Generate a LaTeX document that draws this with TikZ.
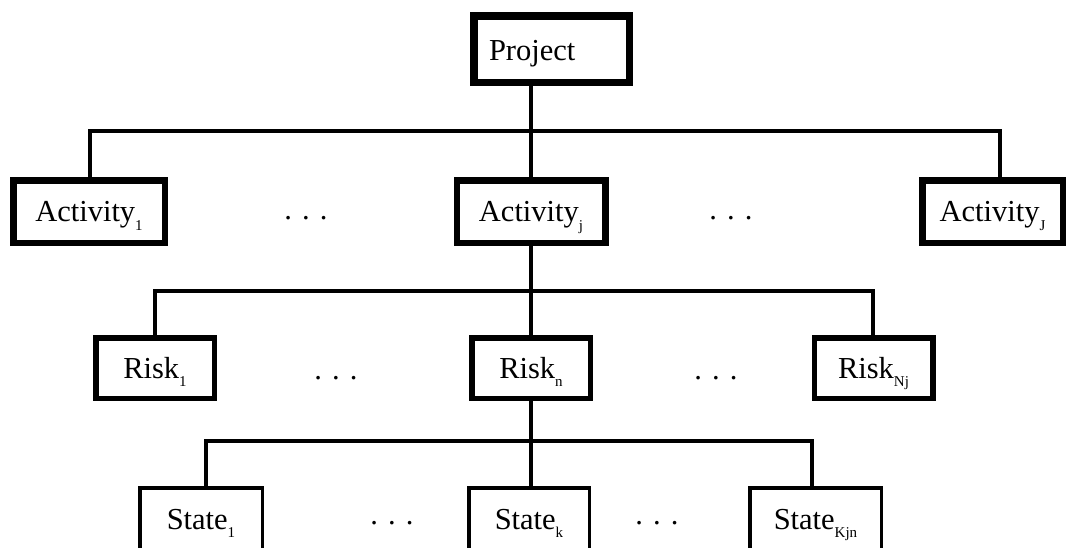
\documentclass[tikz,border=0pt]{standalone}
\usepackage{fontspec}
\setmainfont{Liberation Serif}
\newcommand\lowsub[1]{\raisebox{-0.28em}{\fontsize{15}{15}\selectfont #1}}
\tikzset{
  box/.style={draw=black, fill=white, inner sep=0pt, align=center,
    text height=20pt, text depth=0pt,
    font=\fontsize{30.5}{36}\selectfont},
  projbox/.style={box, line width=7.5pt, text width=125pt, align=left,
    inner xsep=15.25pt, minimum height=66.5pt, text height=22pt},
  actbox/.style={box, line width=6.5pt, minimum height=62.5pt},
  riskbox/.style={box, line width=5.5pt, minimum width=118.5pt, minimum height=60.5pt},
  statebox/.style={box, line width=3.5pt, minimum height=62.5pt},
  link/.style={line width=3.6pt, line cap=rect},
  dots/.style={anchor=base, inner sep=0pt, font=\fontsize{30.5}{36}\selectfont}
}
\begin{document}
\begin{tikzpicture}[x=1pt, y=-1pt]
\useasboundingbox (0,0) rectangle (1072,547);
\clip (0,0) rectangle (1072,547);

% bus coordinates
\coordinate (b1L) at (90,131);
\coordinate (b1R) at (1000,131);
\coordinate (b2L) at (155,291);
\coordinate (b2R) at (873,291);
\coordinate (b3L) at (206,441);
\coordinate (b3R) at (812,441);
\coordinate (pdrop) at (531,86);

% horizontal buses (drawn first, boxes on top)
\draw[link] (b1L) -- (b1R);
\draw[link] (b2L) -- (b2R);
\draw[link] (b3L) -- (b3R);

% top level
\node[projbox] (proj) at (551.5,49) {Project};

% activities
\node[actbox, minimum width=151.5pt] (a1) at (89,211.5) {Activity\lowsub{1}};
\node[actbox, minimum width=148.5pt] (aj) at (531,211.5) {Activity\lowsub{j}};
\node[actbox, minimum width=140.5pt] (aJ) at (992.5,211.5) {Activity\lowsub{J}};

% risks
\node[riskbox] (r1) at (155,368) {Risk\lowsub{1}};
\node[riskbox] (rn) at (531,368) {Risk\lowsub{n}};
\node[riskbox] (rN) at (873.5,368) {Risk\lowsub{Nj}};

% states
\node[statebox, minimum width=122.5pt] (s1) at (201,519) {State\lowsub{1}};
\node[statebox, minimum width=120.5pt] (sk) at (529,519) {State\lowsub{k}};
\node[statebox, minimum width=131.5pt] (sK) at (815.5,519) {State\lowsub{Kjn}};

% vertical links
\draw[link] (pdrop |- proj.south) -- (pdrop |- b1L);
\draw[link] (b1L) -- (b1L |- a1.north);
\draw[link] (aj.north |- b1L) -- (aj.north);
\draw[link] (b1R) -- (b1R |- aJ.north);
\draw[link] (aj.south) -- (aj.south |- b2L);
\draw[link] (b2L) -- (b2L |- r1.north);
\draw[link] (rn.north |- b2L) -- (rn.north);
\draw[link] (b2R) -- (b2R |- rN.north);
\draw[link] (rn.south) -- (rn.south |- b3L);
\draw[link] (b3L) -- (b3L |- s1.north);
\draw[link] (rn.south |- b3L) -- (rn.south |- sk.north);
\draw[link] (b3R) -- (b3R |- sK.north);

% ellipses between siblings
\node[dots] (d1) at (306,219) {. . .};
\node[dots] (d2) at (731,219) {. . .};
\node[dots] (d3) at (336,379) {. . .};
\node[dots] (d4) at (716,379) {. . .};
\node[dots] (d5) at (392,524) {. . .};
\node[dots] (d6) at (657,524) {. . .};
\end{tikzpicture}
\end{document}
